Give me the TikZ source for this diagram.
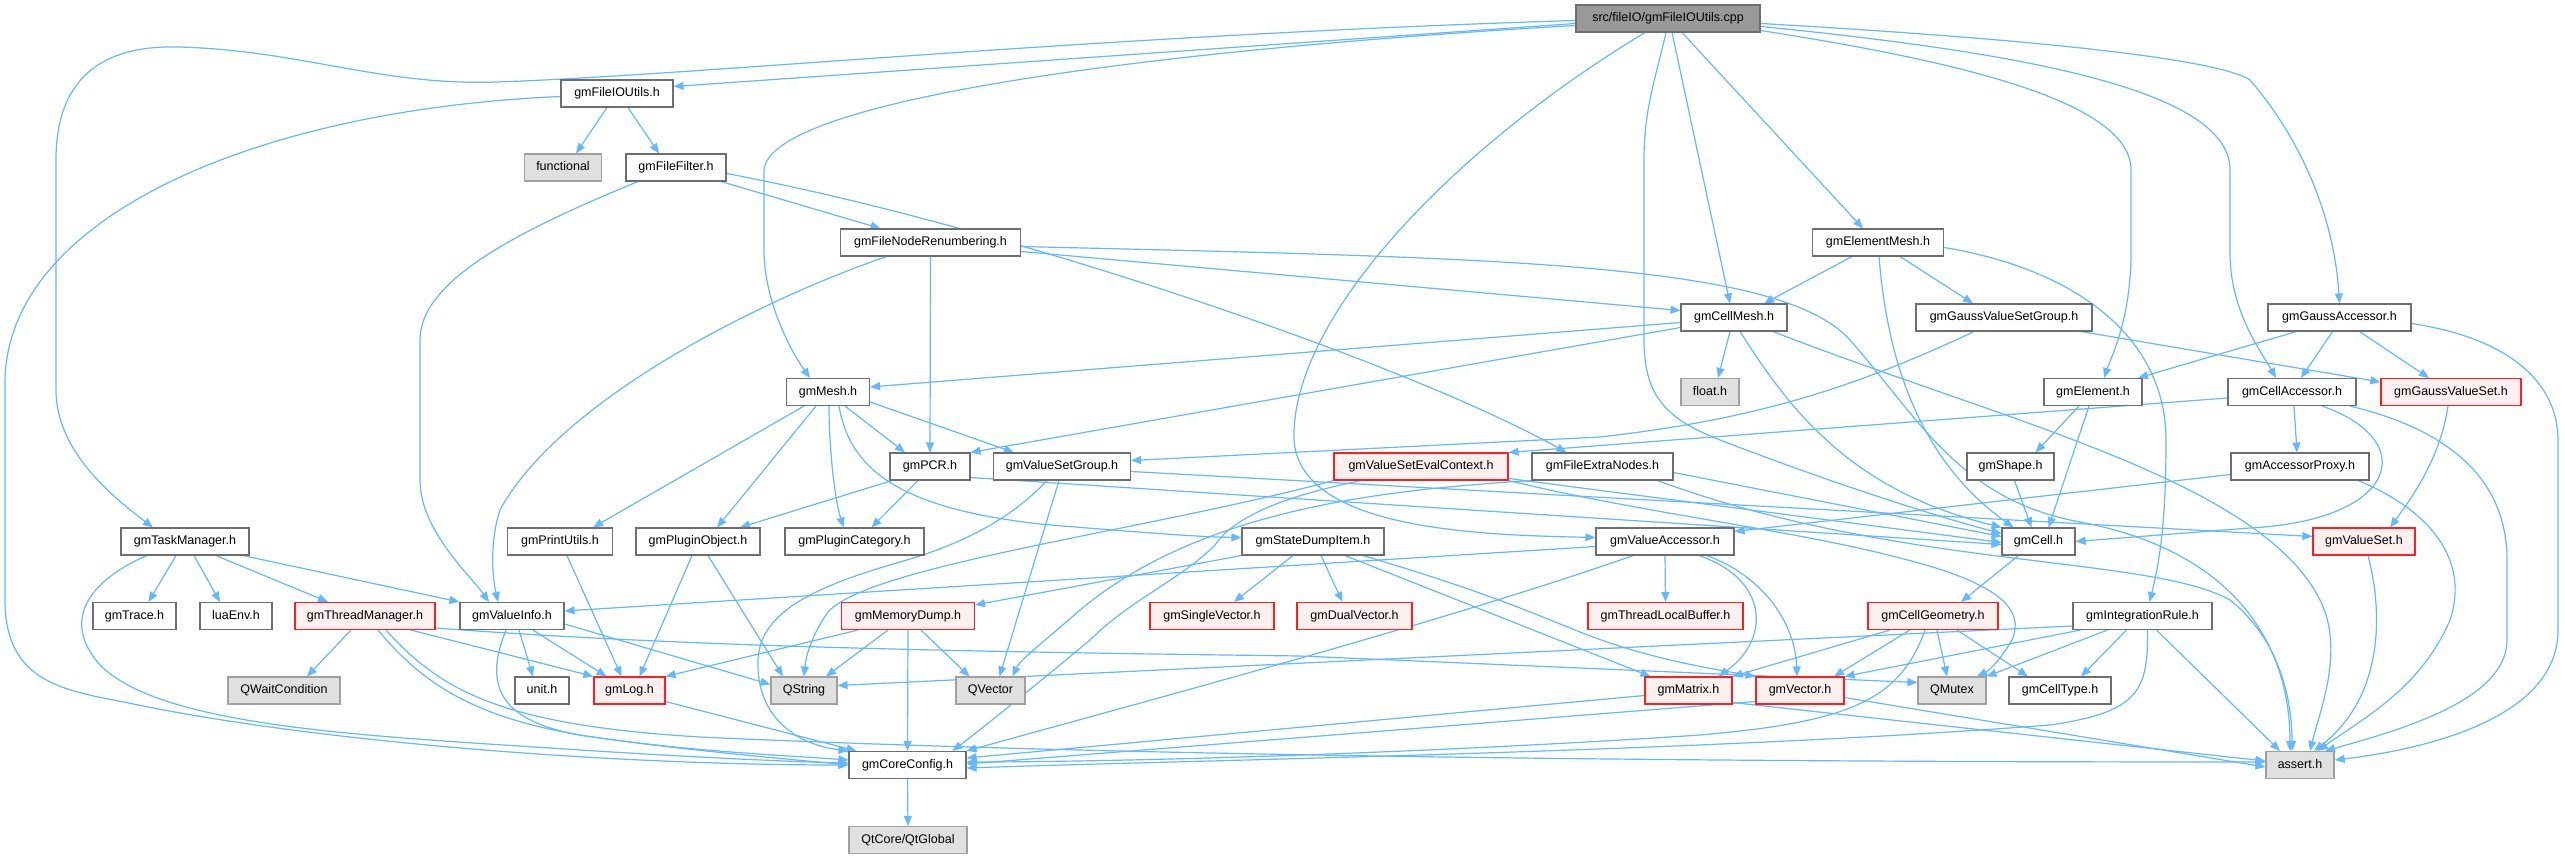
\documentclass[tikz,border=0pt]{standalone}
\usepackage{fontspec}
\setmainfont{Liberation Sans}
\usetikzlibrary{arrows.meta,backgrounds}
\definecolor{edgeblue}{RGB}{99,184,255}
\definecolor{ndborder}{RGB}{110,110,110}
\definecolor{redfill}{RGB}{255,240,240}
\definecolor{redborder}{RGB}{255,30,30}
\definecolor{grayfill}{RGB}{224,224,224}
\definecolor{grayborder}{RGB}{160,160,160}
\definecolor{rootfill}{RGB}{153,153,153}
\begin{document}
\begin{tikzpicture}[x=1pt,y=-1pt,
  nd/.style={draw=ndborder, fill=white, line width=1.1pt, minimum height=27pt, inner sep=0pt, text height=9.5pt, text depth=2.7pt, font=\fontsize{12.5}{14}\selectfont},
  rednd/.style={nd, draw=redborder, fill=redfill},
  graynd/.style={nd, draw=grayborder, fill=grayfill},
  rootnd/.style={nd, fill=rootfill},
  dep/.style={draw=edgeblue, line width=1.2pt, -{Triangle[length=10pt,width=8pt]}},
]
\useasboundingbox (0,0) rectangle (2565,859);
% nodes
\node[rootnd, minimum width=184pt] (root) at (1668,18.5) {src/fileIO/gmFileIOUtils.cpp};
\node[nd, minimum width=112pt] (fileioutils) at (617,93.5) {gmFileIOUtils.h};
\node[graynd, minimum width=77pt] (functional) at (563,167.5) {functional};
\node[nd, minimum width=100pt] (filefilter) at (676,167.5) {gmFileFilter.h};
\node[nd, minimum width=180pt] (renum) at (930.5,242.5) {gmFileNodeRenumbering.h};
\node[nd, minimum width=131pt] (elementmesh) at (1878,242.5) {gmElementMesh.h};
\node[nd, minimum width=106pt] (cellmesh) at (1734,317.5) {gmCellMesh.h};
\node[nd, minimum width=176pt] (gvsgroup) at (2004,317.5) {gmGaussValueSetGroup.h};
\node[nd, minimum width=143pt] (gaussacc) at (2339.5,317.5) {gmGaussAccessor.h};
\node[nd, minimum width=83pt] (mesh) at (828,392) {gmMesh.h};
\node[graynd, minimum width=58pt] (float) at (1710,392) {float.h};
\node[nd, minimum width=98pt] (element) at (2093,392) {gmElement.h};
\node[nd, minimum width=128pt] (cellacc) at (2292,392) {gmCellAccessor.h};
\node[rednd, minimum width=140pt] (gaussvs) at (2451,392) {gmGaussValueSet.h};
\node[nd, minimum width=80pt] (pcr) at (930,466.5) {gmPCR.h};
\node[nd, minimum width=137pt] (vsgroup) at (1062,466.5) {gmValueSetGroup.h};
\node[rednd, minimum width=174pt] (evalctx) at (1421,466.5) {gmValueSetEvalContext.h};
\node[nd, minimum width=141pt] (extranodes) at (1602.5,466.5) {gmFileExtraNodes.h};
\node[nd, minimum width=87pt] (shape) at (2010.5,466.5) {gmShape.h};
\node[nd, minimum width=138pt] (accproxy) at (2300,466.5) {gmAccessorProxy.h};
\node[nd, minimum width=128pt] (taskmgr) at (185,541.5) {gmTaskManager.h};
\node[nd, minimum width=105pt] (printutils) at (560,541.5) {gmPrintUtils.h};
\node[nd, minimum width=124pt] (pluginobj) at (698,541.5) {gmPluginObject.h};
\node[nd, minimum width=139pt] (plugincat) at (854.5,541.5) {gmPluginCategory.h};
\node[nd, minimum width=142pt] (statedump) at (1313,541.5) {gmStateDumpItem.h};
\node[nd, minimum width=138pt] (valacc) at (1665,541.5) {gmValueAccessor.h};
\node[nd, minimum width=73pt] (cell) at (2038.5,541.5) {gmCell.h};
\node[rednd, minimum width=102pt] (valueset) at (2364,541.5) {gmValueSet.h};
\node[nd, minimum width=83pt] (trace) at (134.5,616) {gmTrace.h};
\node[nd, minimum width=72pt] (luaenv) at (236,616) {luaEnv.h};
\node[rednd, minimum width=140pt] (threadmgr) at (365,616) {gmThreadManager.h};
\node[nd, minimum width=104pt] (valueinfo) at (512,616) {gmValueInfo.h};
\node[rednd, minimum width=133pt] (memdump) at (908,616) {gmMemoryDump.h};
\node[rednd, minimum width=124pt] (singlevec) at (1212,616) {gmSingleVector.h};
\node[rednd, minimum width=115pt] (dualvec) at (1354.5,616) {gmDualVector.h};
\node[rednd, minimum width=155pt] (tlbuffer) at (1665.5,616) {gmThreadLocalBuffer.h};
\node[rednd, minimum width=130pt] (cellgeom) at (1933,616) {gmCellGeometry.h};
\node[nd, minimum width=139pt] (intrule) at (2142.5,616) {gmIntegrationRule.h};
\node[graynd, minimum width=112pt] (qwait) at (284,690.5) {QWaitCondition};
\node[nd, minimum width=54pt] (unit) at (542,690.5) {unit.h};
\node[rednd, minimum width=71pt] (log) at (629.5,690.5) {gmLog.h};
\node[graynd, minimum width=66pt] (qstring) at (804,690.5) {QString};
\node[graynd, minimum width=69pt] (qvector) at (990.5,690.5) {QVector};
\node[rednd, minimum width=87pt] (matrix) at (1688.5,690.5) {gmMatrix.h};
\node[rednd, minimum width=88pt] (vector) at (1800,690.5) {gmVector.h};
\node[graynd, minimum width=68pt] (qmutex) at (1952,690.5) {QMutex};
\node[nd, minimum width=102pt] (celltype) at (2060,690.5) {gmCellType.h};
\node[nd, minimum width=117pt] (coreconfig) at (907.5,765) {gmCoreConfig.h};
\node[graynd, minimum width=68pt] (assert) at (2300,765) {assert.h};
\node[graynd, minimum width=118pt] (qtglobal) at (908,840) {QtCore/QtGlobal};

\begin{scope}[on background layer]
\fill[white] (0,0) rectangle (2565,859);
% root
\draw[dep] ([yshift=-5]root.west) -- ([yshift=7]fileioutils.east);
\draw[dep] ([yshift=-2]root.west) .. controls (1100,35) and (700,75) .. (497,82) .. controls (380,86) and (300,50) .. (178,47) .. controls (100,45) and (56,80) .. (56,160) -- (56,390) .. controls (56,450) and (110,495) .. ([xshift=-32]taskmgr.north);
\draw[dep] ([yshift=-7]root.west) .. controls (1150,50) and (770,100) .. (764,170) -- (764,250) .. controls (764,300) and (790,350) .. ([xshift=-18]mesh.north);
\draw[dep] ([xshift=-23]root.south) .. controls (1450,150) and (1290,320) .. (1294,440) .. controls (1300,530) and (1480,535) .. ([yshift=4]valacc.west);
\draw[dep] ([xshift=4]root.south) -- ([xshift=-4]cellmesh.north);
\draw[dep] ([xshift=-2]root.south) .. controls (1655,80) and (1644,110) .. (1644,160) -- (1644,340) .. controls (1644,400) and (1670,420) .. (1720,440) .. controls (1850,490) and (1950,520) .. ([yshift=8]cell.west);
\draw[dep] ([xshift=14]root.south) -- ([xshift=-15]elementmesh.north);
\draw[dep] ([yshift=-12]root.east) .. controls (1950,60) and (2131,100) .. (2131,170) -- (2131,253) .. controls (2131,320) and (2110,360) .. ([xshift=11]element.north);
\draw[dep] ([yshift=-8]root.east) .. controls (2050,55) and (2230,95) .. (2230,170) -- (2230,253) .. controls (2230,310) and (2260,350) .. ([xshift=-16]cellacc.north);
\draw[dep] ([yshift=-5]root.east) .. controls (2050,40) and (2220,60) .. (2250,80) .. controls (2310,150) and (2335,230) .. (gaussacc.north);
% fileioutils
\draw[dep] ([xshift=-10]fileioutils.south) -- ([xshift=13]functional.north);
\draw[dep] ([xshift=11]fileioutils.south) -- ([xshift=-17]filefilter.north);
\draw[dep] ([yshift=-3]fileioutils.west) .. controls (250,110) and (5,220) .. (5,383) -- (5,600) .. controls (5,680) and (60,690) .. (124,702) .. controls (300,740) and (600,765) .. (coreconfig.west);
% filefilter
\draw[dep] ([xshift=45]filefilter.south) -- ([xshift=-50]renum.north);
\draw[dep] ([xshift=-38]filefilter.south) .. controls (520,230) and (420,280) .. (420,340) -- (420,480) .. controls (420,530) and (470,575) .. ([xshift=-23]valueinfo.north);
\draw[dep] ([yshift=-6]filefilter.east) .. controls (1000,225) and (1400,360) .. ([xshift=-36]extranodes.north);
% renum
\draw[dep] ([yshift=-9]renum.east) -- ([yshift=7]cellmesh.west);
\draw[dep] ([yshift=-4]renum.east) .. controls (1500,258) and (1780,262) .. (1850,340) .. controls (1920,420) and (1960,500) .. (2080,522) .. controls (2230,550) and (2290,640) .. ([xshift=-10]assert.north);
\draw[dep] (renum.south) -- (pcr.north);
\draw[dep] ([xshift=-44]renum.south) .. controls (760,300) and (560,400) .. (500,510) .. controls (490,540) and (492,575) .. ([xshift=-14]valueinfo.north);
% elementmesh
\draw[dep] ([xshift=-26]elementmesh.south) -- ([xshift=30]cellmesh.north);
\draw[dep] ([xshift=22]elementmesh.south) -- ([xshift=-31]gvsgroup.north);
\draw[dep] ([xshift=1]elementmesh.south) .. controls (1885,330) and (1905,450) .. ([xshift=-25]cell.north);
\draw[dep] ([yshift=-5]elementmesh.east) .. controls (2080,270) and (2166,340) .. (2166,440) .. controls (2166,520) and (2160,560) .. ([xshift=7]intrule.north);
% cellmesh
\draw[dep] ([yshift=-5]cellmesh.west) -- ([yshift=5]mesh.east);
\draw[dep] ([yshift=-10]cellmesh.west) -- (pcr.north east);
\draw[dep] ([xshift=-4]cellmesh.south) -- ([xshift=8]float.north);
\draw[dep] ([xshift=6]cellmesh.south) .. controls (1790,410) and (1850,490) .. (cell.north west);
\draw[dep] ([xshift=39]cellmesh.south) .. controls (2000,420) and (2260,480) .. (2320,600) .. controls (2345,650) and (2320,710) .. ([xshift=10]assert.north);
% gvsgroup
\draw[dep] ([xshift=77]gvsgroup.south) -- ([yshift=10]gaussvs.west);
\draw[dep] ([xshift=-30]gvsgroup.south) .. controls (1850,390) and (1750,420) .. (1600,437) -- ([yshift=6]vsgroup.east);
% gaussacc
\draw[dep] ([xshift=-43]gaussacc.south) -- ([xshift=45]element.north);
\draw[dep] ([xshift=-7]gaussacc.south) -- ([xshift=9]cellacc.north);
\draw[dep] ([xshift=20]gaussacc.south) -- ([xshift=-22]gaussvs.north);
\draw[dep] ([yshift=-6]gaussacc.east) .. controls (2520,340) and (2558,390) .. (2558,440) -- (2558,630) .. controls (2558,720) and (2420,750) .. ([yshift=5]assert.east);
% mesh
\draw[dep] ([xshift=-24]mesh.south) -- ([xshift=33]printutils.north);
\draw[dep] ([xshift=-12]mesh.south) -- ([xshift=19]pluginobj.north);
\draw[dep] ([xshift=1]mesh.south) .. controls (829,450) and (835,500) .. ([xshift=-11]plugincat.north);
\draw[dep] ([xshift=11]mesh.south) .. controls (850,470) and (900,510) .. (1050,525) .. controls (1150,533) and (1200,537) .. ([yshift=4]statedump.west);
\draw[dep] ([xshift=17]mesh.south) -- ([xshift=-25]pcr.north);
\draw[dep] ([yshift=-10]mesh.east) -- ([xshift=-48]vsgroup.north);
% element
\draw[dep] ([xshift=-14]element.south) -- ([xshift=25]shape.north);
\draw[dep] ([xshift=-4]element.south) -- ([xshift=10]cell.north);
% cellacc
\draw[dep] ([yshift=-6]cellacc.west) -- (evalctx.north east);
\draw[dep] ([xshift=2]cellacc.south) -- ([xshift=-3]accproxy.north);
\draw[dep] ([xshift=30]cellacc.south) .. controls (2420,440) and (2400,520) .. (2250,528) -- (cell.east);
\draw[dep] ([xshift=58]cellacc.south) .. controls (2450,430) and (2507,480) .. (2507,560) -- (2507,640) .. controls (2507,700) and (2400,730) .. ([xshift=25]assert.north);
% gaussvs
\draw[dep] ([xshift=-3]gaussvs.south) .. controls (2440,460) and (2410,500) .. ([xshift=26]valueset.north);
% accproxy
\draw[dep] ([yshift=-8]accproxy.west) -- ([yshift=10]valacc.east);
\draw[dep] ([xshift=58]accproxy.south) .. controls (2430,510) and (2470,560) .. (2450,620) .. controls (2420,690) and (2360,720) .. ([xshift=18]assert.north);
% valueset
\draw[dep] ([xshift=4]valueset.south) .. controls (2385,620) and (2380,700) .. ([xshift=14]assert.north);
% shape
\draw[dep] ([xshift=4]shape.south) -- ([xshift=-7]cell.north);
% pcr
\draw[dep] ([xshift=-38]pcr.south) -- ([xshift=42]pluginobj.north);
\draw[dep] ([xshift=-12]pcr.south) -- ([xshift=17]plugincat.north);
\draw[dep] ([yshift=-11]pcr.east) -- ([yshift=-3]cell.west);
% vsgroup
\draw[dep] ([xshift=-15]vsgroup.south) .. controls (1010,520) and (960,545) .. (900,562) .. controls (820,585) and (760,610) .. (758,660) .. controls (756,720) and (800,745) .. (coreconfig.north west);
\draw[dep] ([xshift=-3]vsgroup.south) -- ([xshift=9]qvector.north);
\draw[dep] ([yshift=-5]vsgroup.east) -- ([yshift=5]valueset.west);
% evalctx
\draw[dep] (evalctx.south west) .. controls (1150,530) and (870,565) .. (828,612) .. controls (812,635) and (806,655) .. (qstring.north);
\draw[dep] ([xshift=-60]evalctx.south) .. controls (1290,495) and (1235,515) .. (1215,545) .. controls (1180,580) and (1130,600) .. (1090,640) .. controls (1030,690) and (980,730) .. ([xshift=45]coreconfig.north);
\draw[dep] ([yshift=-12]evalctx.east) -- ([yshift=-1]cell.west);
\draw[dep] (evalctx.south east) .. controls (1650,515) and (1800,530) .. (1915,562) .. controls (2000,585) and (2025,610) .. (2012,640) .. controls (2000,660) and (1990,670) .. ([xshift=25]qmutex.north);
% extranodes
\draw[dep] (extranodes.south west) .. controls (1380,490) and (1200,510) .. (1080,610) .. controls (1040,645) and (1020,660) .. ([xshift=22]qvector.north);
\draw[dep] ([yshift=-6]extranodes.east) -- ([yshift=5]cell.west);
\draw[dep] ([xshift=55]extranodes.south) .. controls (1900,570) and (2150,555) .. (2230,600) .. controls (2280,640) and (2292,700) .. ([xshift=-8]assert.north);
% statedump
\draw[dep] (statedump.south west) -- ([yshift=-3]memdump.north east);
\draw[dep] ([xshift=-20]statedump.south) -- ([xshift=22]singlevec.north);
\draw[dep] ([xshift=8]statedump.south) -- ([xshift=-12]dualvec.north);
\draw[dep] ([xshift=32]statedump.south) -- ([xshift=-38]matrix.north);
\draw[dep] ([xshift=50]statedump.south) .. controls (1480,590) and (1530,612) .. (1580,632) .. controls (1650,660) and (1720,670) .. (vector.north west);
% memdump
\draw[dep] ([xshift=-50]memdump.south) -- (log.north east);
\draw[dep] ([xshift=-20]memdump.south) -- ([xshift=22]qstring.north);
\draw[dep] ([xshift=13]memdump.south) -- ([xshift=-21]qvector.north);
\draw[dep] (memdump.south) -- (coreconfig.north);
% valacc
\draw[dep] ([yshift=-5]valacc.west) -- ([yshift=5]valueinfo.east);
\draw[dep] ([xshift=-32]valacc.south) .. controls (1450,620) and (1150,700) .. (coreconfig.north east);
\draw[dep] (valacc.south) -- (tlbuffer.north);
\draw[dep] ([xshift=34]valacc.south) .. controls (1770,580) and (1770,640) .. ([xshift=30]matrix.north);
\draw[dep] ([xshift=42]valacc.south) .. controls (1760,575) and (1795,620) .. ([xshift=-3]vector.north);
% cell
\draw[dep] ([xshift=-20]cell.south) -- ([xshift=28]cellgeom.north);
% taskmgr
\draw[dep] ([xshift=-9]taskmgr.south) -- ([xshift=14]trace.north);
\draw[dep] ([xshift=9]taskmgr.south) -- ([xshift=-16]luaenv.north);
\draw[dep] ([xshift=31]taskmgr.south) -- ([xshift=-37]threadmgr.north);
\draw[dep] ([xshift=58]taskmgr.south) -- (valueinfo.north west);
\draw[dep] ([xshift=-38]taskmgr.south) .. controls (90,580) and (60,620) .. (100,665) .. controls (160,725) and (350,735) .. (550,748) .. controls (700,758) and (800,762) .. ([yshift=2]coreconfig.west);
% threadmgr
\draw[dep] ([xshift=-14]threadmgr.south) -- ([xshift=23]qwait.north);
\draw[dep] ([xshift=46]threadmgr.south) -- (log.north west);
\draw[dep] ([xshift=13]threadmgr.south) .. controls (420,680) and (470,720) .. (600,738) .. controls (700,752) and (780,755) .. ([yshift=5]coreconfig.west);
\draw[dep] ([xshift=21]threadmgr.south) .. controls (440,690) and (500,725) .. (700,737) .. controls (1200,760) and (1900,762) .. ([yshift=3]assert.west);
\draw[dep] ([yshift=-12]threadmgr.east) .. controls (700,648) and (1000,652) .. (1300,656) -- ([yshift=8]qmutex.west);
% valueinfo
\draw[dep] ([xshift=7]valueinfo.south) -- ([xshift=-9]unit.north);
\draw[dep] ([xshift=21]valueinfo.south) -- ([xshift=-23]log.north);
\draw[dep] ([yshift=-8]valueinfo.east) -- ([yshift=6]qstring.west);
\draw[dep] ([xshift=-6]valueinfo.south) .. controls (486,680) and (490,725) .. (600,738) .. controls (700,752) and (800,760) .. (coreconfig.west);
% log, printutils, pluginobj
\draw[dep] ([yshift=-11]log.east) -- ([xshift=-51]coreconfig.north);
\draw[dep] ([xshift=7]printutils.south) -- ([xshift=-8]log.north);
\draw[dep] ([xshift=-6]pluginobj.south) -- ([xshift=10]log.north);
\draw[dep] ([xshift=10]pluginobj.south) -- ([xshift=-21]qstring.north);
% cellgeom
\draw[dep] ([xshift=-43]cellgeom.south) -- (matrix.north east);
\draw[dep] ([xshift=-23]cellgeom.south) -- ([xshift=34]vector.north);
\draw[dep] ([xshift=4]cellgeom.south) -- ([xshift=-5]qmutex.north);
\draw[dep] ([xshift=24]cellgeom.south) -- ([xshift=-32]celltype.north);
\draw[dep] ([xshift=-8]cellgeom.south) .. controls (1900,700) and (1850,722) .. (1700,735) .. controls (1400,755) and (1100,762) .. ([yshift=3]coreconfig.east);
% intrule
\draw[dep] ([yshift=-10]intrule.west) -- ([yshift=5]qstring.east);
\draw[dep] ([xshift=8]intrule.south west) -- (vector.north east);
\draw[dep] ([xshift=-35]intrule.south) -- (qmutex.north east);
\draw[dep] ([xshift=-16]intrule.south) -- ([xshift=21]celltype.north);
\draw[dep] ([xshift=5]intrule.south) .. controls (2148,690) and (2140,712) .. (2050,725) .. controls (1700,752) and (1200,760) .. ([yshift=-3]coreconfig.east);
\draw[dep] ([xshift=14]intrule.south) -- ([xshift=-20]assert.north);
% matrix, vector
\draw[dep] ([yshift=-5]matrix.west) -- ([yshift=7]coreconfig.east);
\draw[dep] ([yshift=-12]matrix.east) -- ([yshift=4]assert.west);
\draw[dep] ([yshift=-11]vector.west) -- ([yshift=1]coreconfig.east);
\draw[dep] ([yshift=-7]vector.east) -- ([yshift=-2]assert.west);
% coreconfig
\draw[dep] (coreconfig.south) -- (qtglobal.north);
\end{scope}
\end{tikzpicture}
\end{document}
